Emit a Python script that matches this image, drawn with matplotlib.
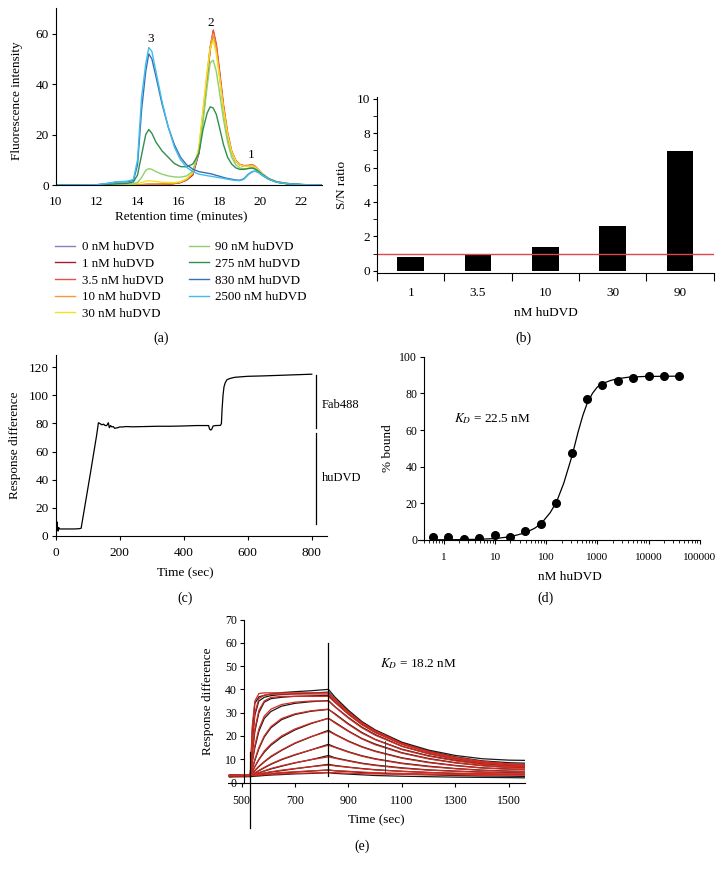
import matplotlib
matplotlib.use("Agg")
import matplotlib.pyplot as plt
from matplotlib.ticker import LogLocator, NullFormatter, FixedLocator

plt.rcParams['font.family'] = ['Liberation Serif', 'DejaVu Serif']
plt.rcParams['mathtext.fontset'] = 'stix'
plt.rcParams['font.size'] = 9.5
plt.rcParams['axes.linewidth'] = 0.8
plt.rcParams['xtick.major.width'] = 0.8
plt.rcParams['ytick.major.width'] = 0.8
plt.rcParams['xtick.minor.width'] = 0.6
plt.rcParams['ytick.minor.width'] = 0.6

W, H = 726, 872

# ---- (a) fluorescence traces, retention time grid in minutes
ret_time = [10, 11, 12, 12.5, 13, 13.5, 13.8, 14.0, 14.2, 14.4,
            14.55, 14.7, 14.9, 15.2, 15.5, 15.8, 16.1, 16.4, 16.7, 17.0,
            17.2, 17.4, 17.55, 17.7, 17.85, 18.0, 18.2, 18.4, 18.6, 18.8,
            19.0, 19.2, 19.4, 19.6, 19.75, 19.9, 20.1, 20.4, 20.8, 21.3,
            22, 23]
conc_labels = ['0 nM huDVD', '1 nM huDVD', '3.5 nM huDVD', '10 nM huDVD', '30 nM huDVD',
               '90 nM huDVD', '275 nM huDVD', '830 nM huDVD', '2500 nM huDVD']
conc_colors = ['#8e7cc3', '#a01e2e', '#e8504a', '#f39a3c', '#f2e21c',
               '#8fd16a', '#2f8f4e', '#3d6db5', '#3dbfea']
fl_0 = [0, 0, 0, 0, 0, 0, 0, 0.1, 0.1, 0.1,
        0.2, 0.2, 0.2, 0.3, 0.4, 0.6, 1.0, 2.0, 4.0, 12.5,
        26.5, 41.5, 53.5, 60, 54.5, 44.5, 30.5, 19.5, 12.8, 9.3,
        7.9, 7.4, 7.5, 7.8, 7.1, 5.9, 4.2, 2.5, 1.2, 0.6,
        0.15, 0]
fl_1 = [0, 0, 0, 0, 0, 0, 0, 0.1, 0.1, 0.2,
        0.2, 0.2, 0.2, 0.3, 0.4, 0.6, 1.0, 2.0, 4.0, 13,
        27, 42, 54, 61, 55, 45, 31, 20, 13, 9.5,
        8, 7.5, 7.6, 7.9, 7.2, 6, 4.3, 2.5, 1.2, 0.6,
        0.15, 0]
fl_3_5 = [0, 0, 0, 0, 0, 0, 0, 0.1, 0.1, 0.2,
          0.2, 0.2, 0.2, 0.3, 0.4, 0.6, 1.0, 2.1, 4.2, 13.5,
          27.5, 42.5, 54.5, 61.5, 56, 46, 32, 21, 13.5, 9.8,
          8.2, 7.7, 7.8, 8.1, 7.4, 6.2, 4.4, 2.6, 1.3, 0.6,
          0.15, 0]
fl_10 = [0, 0, 0, 0, 0, 0, 0, 0.1, 0.2, 0.3,
         0.4, 0.4, 0.4, 0.4, 0.5, 0.7, 1.1, 2.3, 4.6, 14.5,
         29, 44, 55, 60, 54, 44, 30.5, 19.8, 13, 9.5,
         8, 7.5, 7.6, 7.9, 7.2, 6, 4.3, 2.5, 1.2, 0.6,
         0.15, 0]
fl_30 = [0, 0, 0, 0, 0.1, 0.2, 0.3, 0.6, 1.0, 1.5,
         1.7, 1.6, 1.4, 1.1, 1.0, 1.0, 1.3, 2.5, 5, 15,
         30, 45, 54, 57.5, 52, 43, 30, 20, 13, 9.5,
         8, 7.4, 7.4, 7.6, 7, 6, 4.3, 2.5, 1.2, 0.6,
         0.15, 0]
fl_90 = [0, 0, 0, 0.1, 0.3, 0.4, 0.5, 1.0, 3, 5.8,
         6.5, 6.2, 5.3, 4.3, 3.6, 3.2, 3.1, 3.6, 5.5, 13,
         25, 39, 48.5, 49.5, 45, 37, 26, 17, 11, 8,
         6.8, 6.4, 6.6, 7, 6.5, 5.6, 4.1, 2.5, 1.2, 0.6,
         0.15, 0]
fl_275 = [0, 0, 0.1, 0.2, 0.5, 0.7, 1.2, 4, 12, 20,
          22, 20.5, 17, 13.5, 11, 8.5, 7.3, 7.2, 8.3, 12.5,
          22, 28.5, 31, 30.5, 28, 23, 16, 11, 8.3, 6.8,
          6.2, 6.2, 6.5, 6.7, 6.3, 5.5, 4.2, 2.5, 1.2, 0.5,
          0.15, 0]
fl_830 = [0, 0, 0.1, 0.6, 1.2, 1.3, 1.8, 8, 30, 45,
          52, 50, 43, 32, 23, 16, 11, 8, 6.3, 5.3,
          5, 4.7, 4.5, 4.2, 3.8, 3.5, 3, 2.6, 2.3, 2.0,
          1.9, 2.5, 4.2, 5.3, 5.5, 5.0, 3.8, 2.3, 1.1, 0.5,
          0.15, 0]
fl_2500 = [0, 0, 0.1, 0.6, 1.3, 1.5, 2.2, 10, 35, 48,
           54.5, 53, 45, 33, 23, 15, 10, 7, 5.3, 4.3,
           4, 3.7, 3.5, 3.3, 3.1, 2.9, 2.6, 2.3, 2.0, 1.8,
           1.7, 2.3, 4.0, 5.2, 5.5, 5.1, 3.9, 2.4, 1.1, 0.5,
           0.15, 0]
fl_series = [fl_0, fl_1, fl_3_5, fl_10, fl_30, fl_90, fl_275, fl_830, fl_2500]

# ---- (b) signal / noise
sn_labels = ['1', '3.5', '10', '30', '90']
sn_values = [0.82, 0.93, 1.36, 2.62, 6.99]
sn_threshold = 1.0

# ---- (c) sensorgram
c_time = [0, 2, 4, 5, 6, 8, 10, 12, 15, 20,
          40, 60, 74, 80, 90, 100, 110, 120, 128, 134,
          138, 145, 150, 155, 160, 165, 168, 172, 176, 180,
          185, 190, 195, 200, 210, 220, 240, 280, 320, 360,
          400, 440, 478, 481, 485, 488, 492, 500, 515, 518,
          520, 523, 526, 530, 535, 545, 560, 600, 650, 700,
          750, 800]
c_resp = [7, 9, 5, 10, 4, 3.5, 6, 5, 5, 5,
          5, 5, 5.2, 5.5, 19, 32.5, 46, 60, 71, 80.5,
          80, 79, 79.5, 78.5, 78.5, 80.5, 77, 78.5, 77.5, 77.8,
          76.5, 76.8, 77, 77.5, 77.5, 77.8, 77.6, 77.8, 78, 78,
          78.2, 78.5, 78.5, 76, 75.3, 76, 78.2, 78.5, 78.6, 80,
          90, 100, 106, 109, 111, 112, 112.8, 113.5, 113.8, 114.2,
          114.6, 115]

# ---- (d) binding curve
d_conc = [0.61, 1.22, 2.44, 4.88, 9.77, 19.5, 39, 78, 156, 312,
          625, 1250, 2500, 5000, 10000, 20000, 40000]
d_bound = [1.8, 1.8, 0.7, 0.9, 2.7, 1.5, 5.1, 8.7, 20.4, 47.3,
           76.7, 84.5, 86.9, 88.2, 89.5, 89.5, 89.5]
fit_conc = [0.6, 2, 5, 10, 20, 40, 60, 80, 120, 160,
            220, 320, 420, 520, 620, 800, 1000, 1300, 1800, 2500,
            4000, 8000, 40000]
fit_bound = [0.1, 0.2, 0.4, 0.8, 1.8, 4, 6.5, 9, 15, 21,
             31, 46, 59, 68, 74, 80, 83.5, 85.5, 87, 88,
             88.8, 89.2, 89.4]

# ---- (e) kinetics, time grid in sec
e_time = [455, 533, 540, 550, 565, 585, 610, 650, 700, 760,
          825, 850, 900, 950, 1000, 1100, 1200, 1300, 1400, 1500, 1560]
e_fit = [
    [3, 3, 24, 35, 38.2, 38.5, 38.5, 38.5, 38.5, 38.5, 38.5, 35.7, 30.3, 25.7, 22.2, 16.8, 13.3, 10.8, 9.0, 8.0, 7.6],
    [3, 3, 18, 30, 36, 37.5, 38, 38, 38, 38, 38.0, 35.2, 30.0, 25.4, 21.9, 16.7, 13.2, 10.7, 9.0, 7.9, 7.6],
    [3, 3, 13, 23, 31, 35, 36.5, 37, 37, 37, 37.0, 34.3, 29.2, 24.8, 21.4, 16.3, 12.9, 10.5, 8.8, 7.8, 7.4],
    [3, 3, 9, 16, 23, 28.5, 31.5, 33.5, 34.5, 35, 35.0, 32.4, 27.6, 23.5, 20.3, 15.5, 12.3, 10.0, 8.4, 7.5, 7.2],
    [3, 3, 6, 10, 15, 20, 24, 27.5, 29.5, 30.8, 31.5, 29.2, 24.9, 21.2, 18.4, 14.1, 11.3, 9.3, 7.8, 7.0, 6.7],
    [3, 3, 4.8, 7, 10, 13.5, 16.5, 20, 23, 25.5, 27.5, 25.5, 21.9, 18.7, 16.2, 12.6, 10.1, 8.4, 7.2, 6.4, 6.2],
    [3, 3, 4, 5.3, 7, 9, 11.3, 14, 17, 19.7, 22, 20.5, 17.6, 15.2, 13.3, 10.4, 8.5, 7.2, 6.2, 5.7, 5.5],
    [3, 3, 3.5, 4.2, 5.2, 6.5, 8, 10, 12, 14, 16, 15.0, 13.0, 11.3, 10.0, 8.1, 6.8, 5.9, 5.2, 4.8, 4.7],
    [3, 3, 3.3, 3.7, 4.2, 5, 6, 7.2, 8.5, 9.8, 11, 10.4, 9.2, 8.1, 7.3, 6.1, 5.3, 4.8, 4.4, 4.1, 4.0],
    [3, 3, 3.15, 3.4, 3.7, 4.1, 4.6, 5.3, 6, 6.8, 7.5, 7.1, 6.5, 5.9, 5.4, 4.8, 4.3, 4.0, 3.8, 3.6, 3.6],
    [3, 3, 3.1, 3.2, 3.4, 3.6, 3.9, 4.3, 4.6, 5, 5.3, 5.1, 4.8, 4.5, 4.2, 3.9, 3.7, 3.5, 3.4, 3.3, 3.3],
    [3, 3, 3.05, 3.1, 3.2, 3.35, 3.5, 3.7, 3.9, 4.1, 4.3, 4.2, 4.0, 3.8, 3.7, 3.5, 3.4, 3.3, 3.2, 3.2, 3.2],
]
e_data = [
    [2.5, 3, 22, 34, 36.8, 37.4, 38, 38.6, 39, 39.4, 40, 36.6, 31, 26.2, 22.6, 17.3, 13.9, 11.6, 10.2, 9.6, 9.5],
    [2.8, 3, 17, 29, 35, 36.6, 37.3, 37.8, 38.1, 38.4, 38.8, 35.8, 30.4, 25.8, 22.2, 17, 13.5, 11, 9.3, 8.5, 8.3],
    [3.2, 3, 12, 22, 30, 34.5, 36, 36.6, 37, 37.2, 37.4, 34.6, 29.4, 25, 21.6, 16.6, 13.1, 10.6, 8.9, 7.9, 7.7],
    [3, 3, 8.5, 15, 22, 27.5, 30.5, 32.8, 34, 34.7, 35.2, 32.5, 27.9, 23.8, 20.6, 15.6, 12.4, 10.1, 8.6, 7.7, 7.4],
    [2.7, 3, 5.8, 9.5, 14.5, 19.5, 23.5, 27, 29.2, 30.6, 31.4, 29.5, 25.2, 21.5, 18.5, 14.3, 11.5, 9.5, 8.0, 7.2, 6.9],
    [3, 3, 4.6, 6.8, 9.8, 13, 16, 19.5, 22.6, 25.3, 27.6, 25.8, 22.1, 18.9, 16.5, 12.8, 10.3, 8.5, 7.3, 6.5, 6.3],
    [2.9, 3, 3.9, 5.1, 6.8, 8.8, 11, 13.8, 16.8, 19.6, 22.4, 20.7, 17.8, 15.4, 13.5, 10.6, 8.7, 7.3, 6.3, 5.8, 5.6],
    [3.1, 3, 3.4, 4.1, 5, 6.3, 7.8, 9.8, 11.8, 14, 16.4, 15.2, 13.2, 11.5, 10.2, 8.3, 7, 6, 5.3, 4.9, 4.8],
    [3, 3, 3.2, 3.6, 4.1, 4.9, 5.8, 7, 8.4, 9.8, 11.6, 10.6, 9.4, 8.3, 7.5, 6.3, 5.4, 4.9, 4.5, 4.2, 4.1],
    [2.8, 3, 3.1, 3.3, 3.6, 4, 4.5, 5.1, 5.9, 6.8, 7.8, 7.3, 6.6, 6, 5.5, 4.8, 4.3, 3.9, 3.7, 3.5, 3.4],
    [2.6, 2.8, 2.9, 3, 3.2, 3.4, 3.7, 4.1, 4.5, 4.9, 5.4, 5.0, 4.7, 4.3, 4.0, 3.6, 3.3, 3.0, 2.8, 2.7, 2.6],
    [2.4, 2.5, 2.6, 2.7, 2.8, 3.0, 3.2, 3.4, 3.7, 3.9, 4.2, 3.9, 3.6, 3.3, 3.0, 2.7, 2.5, 2.3, 2.2, 2.1, 2.0],
]


def rect(x0, y_top, x1, y_bot):
    # pixel box -> figure fraction
    return [x0 / W, 1 - y_bot / H, (x1 - x0) / W, (y_bot - y_top) / H]


def ftext(x, y, s, **kw):
    fig.text(x / W, 1 - y / H, s, ha=kw.pop('ha', 'center'), va=kw.pop('va', 'center'), **kw)


def clean(ax, size=9.5):
    ax.spines['top'].set_visible(False)
    ax.spines['right'].set_visible(False)
    ax.tick_params(direction='out', length=3, pad=2, labelsize=size)


fig = plt.figure(figsize=(W / 100, H / 100), dpi=100)

# (a)
ax_a = fig.add_axes(rect(55.7, 8.5, 321.7, 185))
lines = []
for ys, col, lab in zip(fl_series, conc_colors, conc_labels):
    ln, = ax_a.plot(ret_time, ys, color=col, lw=1.0, label=lab)
    lines.append(ln)
ax_a.set_xlim(10, 23)
ax_a.set_ylim(0, 70)
ax_a.set_xticks(range(10, 24, 2))
ax_a.set_yticks(range(0, 61, 20))
clean(ax_a)
ax_a.tick_params(axis='x', length=0, pad=8)
ax_a.text(14.62, 57.8, '3', ha='center', va='center', fontsize=9.5)
ax_a.text(17.57, 64.2, '2', ha='center', va='center', fontsize=9.5)
ax_a.text(19.55, 11.9, '1', ha='center', va='center', fontsize=9.5)
ftext(17, 101, 'Fluorescence intensity', rotation=90)
ftext(181, 217, 'Retention time (minutes)')
fig.legend(handles=lines, ncol=2, loc='upper left', bbox_to_anchor=(55 / W, 1 - 241 / H),
           frameon=False, fontsize=9.4, handlelength=1.53, handletextpad=0.51,
           columnspacing=1.94, labelspacing=0.35, borderpad=0, borderaxespad=0)
ftext(161, 338, '(a)', fontsize=10)

# (b)
ax_b = fig.add_axes(rect(377, 96.7, 713.7, 273.3))
pos = list(range(len(sn_values)))
ax_b.bar(pos, sn_values, width=0.4, color='black')
ax_b.axhline(sn_threshold, color='#e0474c', lw=1.0)
ax_b.set_xlim(-0.5, 4.5)
ax_b.set_ylim(-0.15, 10.13)
ax_b.set_yticks(range(0, 11, 2))
ax_b.set_yticks(range(1, 10, 2), minor=True)
ax_b.set_xticks([p - 0.5 for p in pos] + [4.5])
ax_b.set_xticklabels([])
ax_b.xaxis.set_minor_locator(FixedLocator(pos))
ax_b.set_xticklabels(sn_labels, minor=True)
clean(ax_b)
ax_b.tick_params(axis='x', which='major', length=6)
ax_b.tick_params(axis='x', which='minor', length=0, pad=10)
ax_b.tick_params(axis='y', which='minor', length=3)
ftext(342, 185, 'S/N ratio', rotation=90)
ftext(545.7, 313.3, 'nM huDVD')
ftext(523, 338, '(b)', fontsize=10)

# (c)
ax_c = fig.add_axes(rect(55.5, 354.5, 326.8, 536))
ax_c.plot(c_time, c_resp, color='black', lw=0.9)
ax_c.plot([813.5, 813.5], [77, 114.5], color='black', lw=0.9, clip_on=False)
ax_c.plot([813.5, 813.5], [8.5, 73], color='black', lw=0.9, clip_on=False)
ax_c.text(831, 93, 'Fab488', ha='left', va='center', fontsize=9)
ax_c.text(831, 41, 'huDVD', ha='left', va='center', fontsize=9)
ax_c.set_xlim(0, 847)
ax_c.set_ylim(0, 129)
ax_c.set_xticks(range(0, 801, 200))
ax_c.set_yticks(range(0, 121, 20))
clean(ax_c)
ax_c.tick_params(axis='x', pad=5)
ftext(15, 445, 'Response difference', rotation=90)
ftext(185, 573, 'Time (sec)')
ftext(185, 598, '(c)', fontsize=10)

# (d)
ax_d = fig.add_axes(rect(418, 356.7, 699.7, 540))
ax_d.set_xscale('log')
ax_d.plot(fit_conc, fit_bound, color='black', lw=0.9)
ax_d.plot(d_conc, d_bound, 'o', color='black', ms=5.5)
ax_d.set_xlim(0.311, 1e5)
ax_d.set_ylim(0, 100)
ax_d.spines['left'].set_position(('data', 0.41))
ax_d.set_xticks([1, 10, 100, 1000, 10000, 100000])
ax_d.set_xticklabels(['1', '10', '100', '1000', '10000', '100000'])
ax_d.xaxis.set_minor_locator(LogLocator(base=10, subs=range(2, 10), numticks=20))
ax_d.xaxis.set_minor_formatter(NullFormatter())
ax_d.set_yticks(range(0, 101, 20))
clean(ax_d, 8.5)
ax_d.tick_params(axis='x', labelsize=8, pad=6)
ax_d.tick_params(axis='x', which='minor', length=2)
for s in ax_d.spines.values():
    s.set_clip_on(False)
ax_d.text(1.6, 66, r'$K_D$ = 22.5 nM', ha='left', va='center', fontsize=9.5)
ftext(388, 448, '% bound', rotation=90)
ftext(569.7, 576.7, 'nM huDVD')
ftext(546, 598, '(d)', fontsize=10)

# (e)
ax_e = fig.add_axes(rect(228, 619.5, 525, 782.5))
for ys in e_data:
    ax_e.plot(e_time, ys, color='#1a1a1a', lw=0.9)
for ys in e_fit:
    ax_e.plot(e_time, ys, color='#d42a20', lw=0.9)
ax_e.plot([533, 533], [13, -19.7], color='black', lw=0.9, clip_on=False)
ax_e.plot([825, 825], [3, 60], color='black', lw=0.9)
ax_e.plot([1037, 1037], [4, 18], color='#333333', lw=0.6)
ax_e.set_xlim(449.5, 1560)
ax_e.set_ylim(0, 70)
ax_e.spines['left'].set_position(('data', 509))
ax_e.set_xticks(range(500, 1501, 200))
ax_e.set_yticks(range(0, 71, 10))
clean(ax_e, 8.5)
ax_e.tick_params(axis='x', pad=6)
ax_e.text(1018, 51, r'$K_D$ = 18.2 nM', ha='left', va='center', fontsize=9.5)
ftext(208, 701, 'Response difference', rotation=90)
ftext(376.7, 820, 'Time (sec)')
ftext(362, 846, '(e)', fontsize=10)

fig.savefig('out.png', dpi=100)
